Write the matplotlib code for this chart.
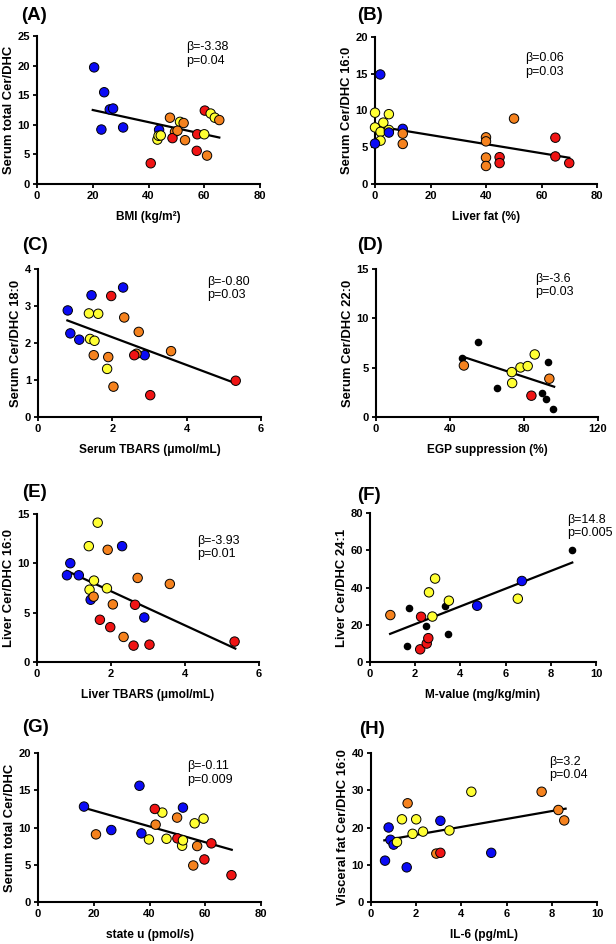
import matplotlib
matplotlib.use("Agg")
import matplotlib.pyplot as plt

plt.rcParams['font.family'] = ['Liberation Sans', 'DejaVu Sans']

W, H = 616, 944
COLORS = {"b": "#0b0bf5", "r": "#f01414", "o": "#f5821e", "y": "#ffff33", "k": "#000000"}

# (A) BMI vs serum total Cer/DHC
a_x = [20.5, 24.1, 26.1, 27.3, 23.1, 30.9, 43.8, 43.2, 43.6, 44.4, 40.8, 47.7, 51.3,
       52.6, 49.5, 48.6, 50.4, 53.1, 57.5, 57.3, 60.0, 61.0, 60.2, 62.3, 63.8, 65.4]
a_y = [19.7, 15.5, 12.6, 12.75, 9.2, 9.55, 9.15, 7.5, 8.15, 8.2, 3.5, 11.2, 10.5,
       10.3, 8.8, 7.75, 9.0, 7.4, 8.4, 5.6, 8.4, 4.8, 12.4, 11.9, 11.2, 10.8]
a_c = ["b", "b", "b", "b", "b", "b", "b", "y", "y", "y", "r", "o", "y",
       "o", "o", "r", "o", "o", "r", "r", "y", "o", "r", "y", "y", "o"]
a_fit = ([20.0, 65.4], [12.5, 7.85])

# (B) liver fat vs serum Cer/DHC 16:0
b_x = [1.9, 0, 5.0, 3.0, 0, 2.0, 5.0, 5.0, 2.0, 0, 10.0, 10.0, 10.0,
       40, 40, 40, 40, 44.9, 44.9, 50.1, 65, 65, 70]
b_y = [14.9, 9.7, 9.5, 8.35, 7.7, 7.1, 7.35, 7.0, 5.9, 5.5, 7.5, 6.85, 5.45,
       6.35, 5.8, 3.6, 2.45, 3.65, 2.85, 8.9, 6.3, 3.75, 2.85]
b_c = ["b", "y", "y", "y", "y", "y", "y", "b", "y", "b", "b", "o", "o",
       "o", "o", "o", "o", "r", "r", "o", "r", "r", "r"]
b_fit = ([0.0, 70.0], [7.9, 3.57])

# (C) serum TBARS vs serum Cer/DHC 18:0
c_x = [0.80, 0.87, 1.11, 1.44, 2.29, 2.87, 1.37, 1.62, 1.40, 1.52, 1.86,
       1.50, 1.89, 2.03, 2.32, 2.71, 3.58, 2.65, 2.59, 1.97, 3.02, 5.32]
c_y = [2.88, 2.26, 2.09, 3.29, 3.50, 1.67, 2.80, 2.79, 2.11, 2.06, 1.30,
       1.67, 1.62, 0.82, 2.69, 2.30, 1.78, 1.71, 1.67, 3.27, 0.59, 0.98]
c_c = ["b", "b", "b", "b", "b", "b", "y", "y", "y", "y", "y",
       "o", "o", "o", "o", "o", "o", "o", "r", "r", "r", "r"]
c_fit = ([0.79, 5.32], [2.61, 0.91])

# (D) EGP suppression vs serum Cer/DHC 22:0
d_x = [46.4, 47.5, 55.1, 65.5, 73.4, 73.6, 78.1, 82.0, 85.8, 84.0, 89.8, 91.9, 92.8, 93.7, 95.9]
d_y = [6.0, 5.22, 7.62, 2.90, 4.55, 3.44, 5.02, 5.16, 6.34, 2.16, 2.39, 1.85, 5.6, 3.88, 0.84]
d_c = ["k", "o", "k", "k", "y", "y", "y", "y", "y", "r", "k", "k", "k", "o", "k"]
d_fit = ([46.6, 96.3], [6.13, 3.07])

# (E) liver TBARS vs liver Cer/DHC 16:0
e_x = [0.81, 0.90, 1.13, 1.45, 2.30, 2.90, 1.40, 1.64, 1.54, 1.42, 1.89, 1.53,
       1.91, 2.05, 2.34, 2.72, 3.59, 1.70, 1.98, 2.61, 2.65, 3.04, 5.34]
e_y = [8.79, 10.01, 8.79, 6.31, 11.74, 4.51, 11.74, 14.12, 8.25, 7.33, 7.47, 6.62,
       11.37, 5.84, 2.54, 8.52, 7.91, 4.28, 3.53, 1.66, 5.80, 1.76, 2.07]
e_c = ["b", "b", "b", "b", "b", "b", "y", "y", "y", "y", "y", "o",
       "o", "o", "o", "o", "o", "r", "r", "r", "r", "r", "r"]
e_fit = ([0.81, 5.36], [9.23, 1.36])

# (F) M-value vs liver Cer/DHC 24:1
f_x = [0.90, 1.62, 1.73, 2.26, 2.22, 2.48, 2.51, 2.58, 2.61, 2.76, 2.88, 3.31,
       3.49, 3.46, 4.74, 6.54, 6.72, 8.94]
f_y = [25.2, 8.6, 29.1, 24.3, 6.8, 19.1, 9.9, 12.8, 37.4, 24.4, 44.8, 30.0,
       32.9, 15.1, 30.2, 34.0, 43.5, 60.4]
f_c = ["o", "k", "k", "r", "r", "k", "r", "r", "y", "y", "y", "k",
       "y", "k", "b", "y", "b", "k"]
f_fit = ([0.89, 8.95], [15.1, 53.4])

# (G) state u vs serum total Cer/DHC
g_x = [16.5, 26.3, 36.4, 37.1, 52.0, 20.8, 42.2, 49.9, 55.7, 57.1, 39.8, 44.6,
       41.9, 46.1, 50.0, 51.7, 52.0, 56.2, 59.4, 59.7, 62.2, 69.4]
g_y = [12.81, 9.66, 15.6, 9.21, 12.67, 9.08, 10.38, 11.33, 4.90, 7.51, 8.40, 12.0,
       12.49, 8.49, 8.54, 7.55, 8.27, 10.56, 11.19, 5.71, 7.87, 3.60]
g_c = ["b", "b", "b", "b", "b", "o", "o", "o", "o", "o", "y", "y",
       "r", "y", "r", "y", "y", "y", "y", "r", "r", "r"]
g_fit = ([15.8, 69.5], [12.72, 7.01])

# (H) IL-6 vs visceral fat Cer/DHC 16:0
h_x = [0.62, 0.78, 0.86, 1.00, 1.58, 3.07, 5.32, 1.15, 1.37, 1.84, 2.0, 2.30,
       3.47, 4.44, 1.62, 2.89, 3.07, 7.55, 8.29, 8.55]
h_y = [11.1, 20.0, 16.7, 15.4, 9.3, 21.8, 13.2, 16.1, 22.2, 18.3, 22.2, 18.9,
       19.2, 29.6, 26.5, 13.0, 13.2, 29.6, 24.7, 21.9]
h_c = ["b", "b", "b", "b", "b", "b", "b", "y", "y", "y", "y", "y",
       "y", "y", "o", "o", "r", "o", "o", "o"]
h_fit = ([0.59, 8.61], [16.55, 25.06])

panels = [
    # tag, x, y, colours, fit, xlabel, ylabel, xticks, yticks, beta, p
    ("(A)", a_x, a_y, a_c, a_fit, "BMI (kg/m²)", "Serum total Cer/DHC",
     [0, 20, 40, 60, 80], [0, 5, 10, 15, 20, 25], "-3.38", "0.04"),
    ("(B)", b_x, b_y, b_c, b_fit, "Liver fat (%)", "Serum Cer/DHC 16:0",
     [0, 20, 40, 60, 80], [0, 5, 10, 15, 20], "0.06", "0.03"),
    ("(C)", c_x, c_y, c_c, c_fit, "Serum TBARS (μmol/mL)", "Serum Cer/DHC 18:0",
     [0, 2, 4, 6], [0, 1, 2, 3, 4], "-0.80", "0.03"),
    ("(D)", d_x, d_y, d_c, d_fit, "EGP suppression (%)", "Serum Cer/DHC 22:0",
     [0, 40, 80, 120], [0, 5, 10, 15], "-3.6", "0.03"),
    ("(E)", e_x, e_y, e_c, e_fit, "Liver TBARS (μmol/mL)", "Liver Cer/DHC 16:0",
     [0, 2, 4, 6], [0, 5, 10, 15], "-3.93", "0.01"),
    ("(F)", f_x, f_y, f_c, f_fit, "M-value (mg/kg/min)", "Liver Cer/DHC 24:1",
     [0, 2, 4, 6, 8, 10], [0, 20, 40, 60, 80], "14.8", "0.005"),
    ("(G)", g_x, g_y, g_c, g_fit, "state u (pmol/s)", "Serum total Cer/DHC",
     [0, 20, 40, 60, 80], [0, 5, 10, 15, 20], "-0.11", "0.009"),
    ("(H)", h_x, h_y, h_c, h_fit, "IL-6 (pg/mL)", "Visceral fat Cer/DHC 16:0",
     [0, 2, 4, 6, 8, 10], [0, 10, 20, 30, 40], "3.2", "0.04"),
]

# layout in pixels: axes box (left, top, right, bottom), stats text pos (axes frac), tag pos
boxes = [(37, 36, 260, 184), (375, 37, 597, 184),
         (38, 269, 261, 417), (376, 269, 598, 417),
         (37, 514, 259, 662), (370, 513, 596, 662),
         (38, 753, 261, 902), (371, 753, 597, 902)]
stat_pos = [(0.67, 0.965), (0.677, 0.895), (0.76, 0.955), (0.718, 0.975),
            (0.72, 0.86), (0.874, 0.995), (0.668, 0.95), (0.788, 0.98)]
tag_pos = [(21, 16), (357, 15), (22, 245), (357, 245),
           (22, 492), (357, 495), (22, 728), (359, 730)]


def draw_panel(ax, x, y, cols, fit, xlabel, ylabel, xticks, yticks, beta, p, spos):
    black = [i for i, c in enumerate(cols) if c == "k"]
    filled = [i for i, c in enumerate(cols) if c != "k"]
    ax.plot(fit[0], fit[1], color="black", lw=1.6, zorder=2)
    ax.scatter([x[i] for i in black], [y[i] for i in black], s=20, color="black",
               zorder=3, clip_on=False)
    ax.scatter([x[i] for i in filled], [y[i] for i in filled], s=46,
               c=[COLORS[cols[i]] for i in filled], edgecolors="black",
               linewidths=0.7, zorder=4, clip_on=False)
    ax.set_xlim(xticks[0], xticks[-1])
    ax.set_ylim(yticks[0], yticks[-1])
    ax.set_xticks(xticks)
    ax.set_yticks(yticks)
    for side in ("top", "right"):
        ax.spines[side].set_visible(False)
    for side in ("left", "bottom"):
        ax.spines[side].set_linewidth(1.5)
    ax.tick_params(width=1.3, length=3, labelsize=8, pad=2)
    for lab in ax.get_xticklabels() + ax.get_yticklabels():
        lab.set_fontweight("bold")
    ax.set_xlabel(xlabel, fontsize=8.6, fontweight="bold", labelpad=7)
    ax.set_ylabel(ylabel, fontsize=9.4, fontweight="bold", labelpad=2)
    ax.text(spos[0], spos[1], f"β={beta}\np={p}", transform=ax.transAxes,
            fontsize=9, va="top", ha="left", linespacing=1.15)


fig = plt.figure(figsize=(W / 100, H / 100), dpi=100)
for (tag, *rest), box, spos, tpos in zip(panels, boxes, stat_pos, tag_pos):
    l, t, r, b = box
    ax = fig.add_axes([l / W, 1 - b / H, (r - l) / W, (b - t) / H])
    draw_panel(ax, *rest, spos)
    fig.text(tpos[0] / W, 1 - tpos[1] / H, tag, fontsize=13.5, fontweight="bold",
             ha="left", va="center")

fig.savefig("out.png", dpi=100)
